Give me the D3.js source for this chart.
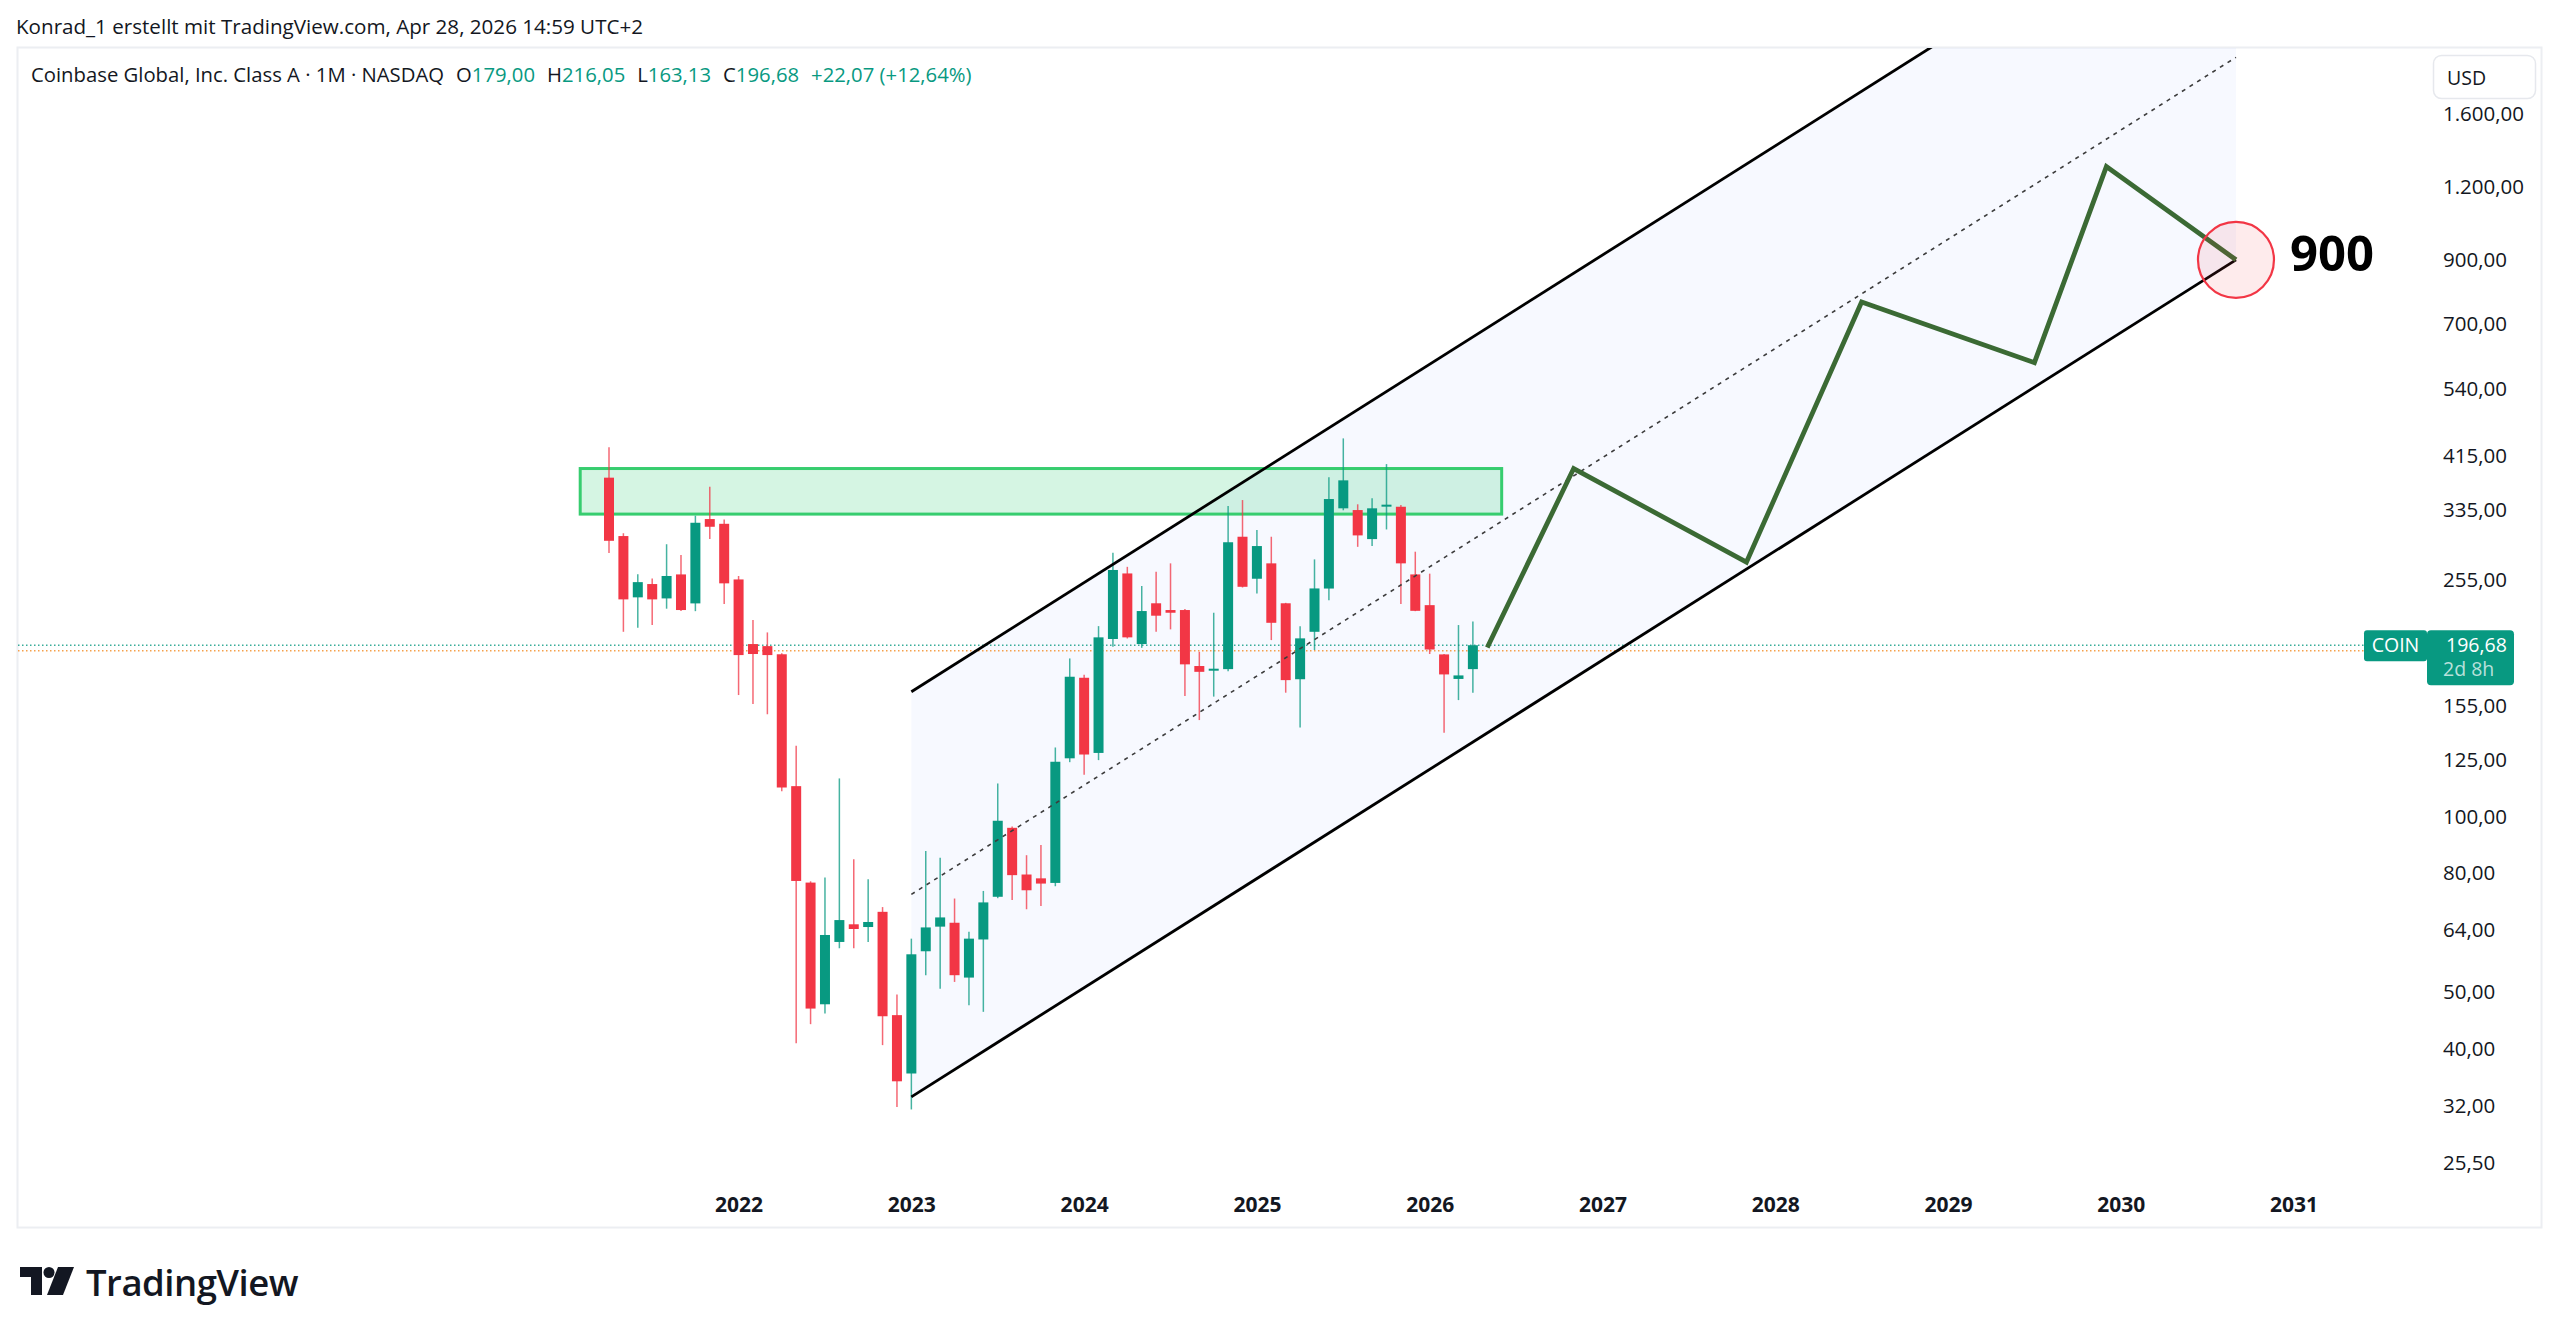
<!doctype html>
<html>
<head>
  <meta charset="utf-8">
  <title>COIN 1M – Kanal</title>
  <style>
    body { margin: 0; background: #fff; }
    svg text { font-family: "Open Sans", "DejaVu Sans", sans-serif; }
  </style>
  <script src="https://cdnjs.cloudflare.com/ajax/libs/d3/7.8.5/d3.min.js"></script>
</head>
<body>
<div id="chart"></div>
<script>
// --- Monatskerzen COIN ---
const months = ['2021-04','2021-05','2021-06','2021-07','2021-08','2021-09','2021-10','2021-11','2021-12',
  '2022-01','2022-02','2022-03','2022-04','2022-05','2022-06','2022-07','2022-08','2022-09','2022-10','2022-11','2022-12',
  '2023-01','2023-02','2023-03','2023-04','2023-05','2023-06','2023-07','2023-08','2023-09','2023-10','2023-11','2023-12',
  '2024-01','2024-02','2024-03','2024-04','2024-05','2024-06','2024-07','2024-08','2024-09','2024-10','2024-11','2024-12',
  '2025-01','2025-02','2025-03','2025-04','2025-05','2025-06','2025-07','2025-08','2025-09','2025-10','2025-11','2025-12',
  '2026-01','2026-02','2026-03','2026-04'];
const opens  = [381, 302.6, 237.6, 250.4, 236.6, 260.1, 232, 323.6, 317.6,
  255, 197.6, 196, 189.8, 112.8, 77.1, 47.7, 61, 65.4, 64.7, 68.7, 45.7,
  36.3, 58.8, 64.8, 65.8, 53, 61.6, 72.9, 95.7, 79.6, 78.4, 77, 125.9,
  173, 128.6, 201.6, 261.1, 197.6, 232.1, 226, 226, 181.2, 178.4, 179, 301.8,
  255.7, 271.7, 232.1, 172, 207.4, 246, 337.6, 335.3, 299, 340.5, 339.7, 260.1,
  230.4, 189.7, 172.2, 179];
const highs  = [429.5, 306, 260.2, 256, 293, 280.8, 327.9, 367.5, 323,
  258.5, 217.2, 206.9, 190.5, 132.3, 77.5, 78.7, 116.3, 84.5, 78.1, 70, 49.6,
  61.8, 87.3, 85, 72.4, 63.5, 74.6, 114, 96.2, 85.9, 89.4, 131.4, 186.7,
  175, 212.1, 283.4, 268, 248.5, 262.9, 271.7, 227, 191.7, 223.6, 340.6, 348.8,
  309.8, 301.8, 232.5, 212, 276, 381.5, 444.9, 343, 351.2, 402, 341.9, 284.5,
  260.9, 190, 213, 216.05];
const lows   = [283, 207.4, 210.7, 213, 227.2, 225.2, 225, 299, 231.4,
  161.6, 156, 149.8, 110.5, 40.9, 44.1, 46, 59.5, 59.5, 61, 40.6, 31.8,
  31.5, 53.5, 50.7, 52.1, 47.5, 46.3, 72.5, 72, 69.4, 70.3, 76, 124,
  118, 125, 195.5, 202, 194.7, 207.4, 209.4, 161, 146.4, 160.6, 177.5, 247,
  241.3, 200.7, 163.1, 142.2, 193, 235, 335, 290, 291, 310.6, 231.4, 225,
  190, 139.2, 158.4, 163.13];
const closes = [297, 235.7, 252.3, 235.7, 258.5, 226, 318.9, 313.9, 251.1,
  189.2, 190, 189.2, 112.2, 77.6, 46.9, 62.7, 66.5, 64.2, 66, 45.5, 35.2,
  58.1, 64.6, 67.2, 53.5, 61.8, 71.3, 98.4, 79.4, 74.8, 76.8, 124.2, 173.7,
  127.8, 202.9, 264.7, 202.9, 225.1, 221, 223.6, 182.4, 177.1, 179.3, 295.3, 247.7,
  290.9, 214.9, 171.4, 202.1, 246.1, 350.2, 377, 303.4, 337.6, 342.5, 271.7, 225.3,
  193.4, 175.3, 174.61, 196.68];

// Achsen
const priceTicks = [1600, 1200, 900, 700, 540, 415, 335, 255, 155, 125, 100, 80, 64, 50, 40, 32, 25.5];
const yearTicks  = ['2022-01','2023-01','2024-01','2025-01','2026-01','2027-01','2028-01','2029-01','2030-01','2031-01'];
const yearLabels = ['2022','2023','2024','2025','2026','2027','2028','2029','2030','2031'];

// Zeichnungen: Kanal, Zone, Prognose-Pfad
const channelMonths = ['2023-01', '2030-09'];
const channelLower  = [33.1, 900];
const channelMid    = [73.6, 2001];
const channelUpper  = [163.7, 4451];
const zoneMonths = ['2021-02', '2026-06'];
const zonePrices = [395, 330];
const pathMonths = ['2026-05','2026-11','2027-11','2028-07','2029-07','2029-12','2030-09'];
const pathPrices = [195, 395, 273, 762, 600, 1300, 900];
const targetMonth = '2030-09', targetPrice = 900;
const extPrice = 192.5; // orange gepunktete Linie

// Monat -> Bar-Index (0 = Apr 2021)
function monthIdx(s) {
  const p = s.split('-').map(Number);
  return (p[0] - 2021) * 12 + (p[1] - 4);
}

const W = 2560, H = 1335;
const pane = { left: 18, top: 48, right: 2430, bottom: 1182 };

const x = d3.scaleLinear().domain([0, 108]).range([609, 609 + 108 * 14.398]);
const y = d3.scaleLog().domain([1600, 25.5]).range([114, 1163]);

const de = d3.formatLocale({ decimal: ',', thousands: '.', grouping: [3], currency: ['', ''] });
const fmt = de.format(',.2f');

const up = '#089981', down = '#f23645', ink = '#131722';

const svg = d3.select('#chart').append('svg')
  .attr('width', W).attr('height', H);

svg.append('defs').append('clipPath').attr('id', 'paneClip')
  .append('rect')
  .attr('x', pane.left).attr('y', pane.top)
  .attr('width', pane.right - pane.left).attr('height', pane.bottom - pane.top);

// Kopfzeile
svg.append('text')
  .attr('x', 16).attr('y', 34)
  .attr('font-size', 20.6).attr('fill', ink)
  .text('Konrad_1 erstellt mit TradingView.com, Apr 28, 2026 14:59 UTC+2');

// Rahmen
svg.append('rect')
  .attr('x', 17.5).attr('y', 47.5).attr('width', 2524).attr('height', 1180)
  .attr('fill', 'none').attr('stroke', '#eceef2').attr('stroke-width', 2);

const plot = svg.append('g').attr('clip-path', 'url(#paneClip)');

// Kanal-Fläche
const c0 = monthIdx(channelMonths[0]), c1 = monthIdx(channelMonths[1]);
plot.append('path')
  .attr('d', d3.line()([
    [x(c0), y(channelUpper[0])], [x(c1), y(channelUpper[1])],
    [x(c1), y(channelLower[1])], [x(c0), y(channelLower[0])]
  ]) + 'Z')
  .attr('fill', 'rgba(41,98,255,0.035)');

// Widerstandszone
const zx0 = x(monthIdx(zoneMonths[0])), zx1 = x(monthIdx(zoneMonths[1]));
plot.append('rect')
  .attr('x', zx0).attr('y', y(zonePrices[0]))
  .attr('width', zx1 - zx0).attr('height', y(zonePrices[1]) - y(zonePrices[0]))
  .attr('fill', 'rgba(46,204,113,0.2)')
  .attr('stroke', '#37cd6f').attr('stroke-width', 3);

// Preislinien (gepunktet)
plot.append('line')
  .attr('x1', pane.left).attr('x2', 2364)
  .attr('y1', y(extPrice)).attr('y2', y(extPrice))
  .attr('stroke', '#f5a04a').attr('stroke-width', 1.5).attr('stroke-dasharray', '1.5,2.5');
plot.append('line')
  .attr('x1', pane.left).attr('x2', 2364)
  .attr('y1', y(closes[closes.length - 1])).attr('y2', y(closes[closes.length - 1]))
  .attr('stroke', up).attr('stroke-opacity', 0.8).attr('stroke-width', 1.5).attr('stroke-dasharray', '1.5,2.5');

// Kerzen
const candles = plot.selectAll('g.candle')
  .data(months)
  .join('g').attr('class', 'candle');

candles.append('line')
  .attr('x1', (d) => x(monthIdx(d))).attr('x2', (d) => x(monthIdx(d)))
  .attr('y1', (d, i) => y(highs[i])).attr('y2', (d, i) => y(lows[i]))
  .attr('stroke', (d, i) => closes[i] >= opens[i] ? up : down)
  .attr('stroke-opacity', 0.75)
  .attr('stroke-width', 1.5);

candles.append('rect')
  .attr('x', (d) => x(monthIdx(d)) - 5)
  .attr('y', (d, i) => y(Math.max(opens[i], closes[i])))
  .attr('width', 10)
  .attr('height', (d, i) => Math.max(2, Math.abs(y(opens[i]) - y(closes[i]))))
  .attr('fill', (d, i) => closes[i] >= opens[i] ? up : down);

// Kanal-Linien
plot.append('line')
  .attr('x1', x(c0)).attr('y1', y(channelMid[0]))
  .attr('x2', x(c1)).attr('y2', y(channelMid[1]))
  .attr('stroke', '#3c3c3c').attr('stroke-width', 1.6).attr('stroke-dasharray', '4,5');
[channelUpper, channelLower].forEach(function(line) {
  plot.append('line')
    .attr('x1', x(c0)).attr('y1', y(line[0]))
    .attr('x2', x(c1)).attr('y2', y(line[1]))
    .attr('stroke', '#000').attr('stroke-width', 2.8);
});

// Prognose-Pfad
plot.append('path')
  .attr('d', d3.line()(pathMonths.map((m, i) => [x(monthIdx(m)), y(pathPrices[i])])))
  .attr('fill', 'none')
  .attr('stroke', '#3b6a34').attr('stroke-width', 4.8)
  .attr('stroke-linejoin', 'miter');

// Ziel-Kreis 900
const tx = x(monthIdx(targetMonth)), ty = y(targetPrice);
plot.append('circle')
  .attr('cx', tx).attr('cy', ty).attr('r', 38)
  .attr('fill', 'rgba(242,54,69,0.1)')
  .attr('stroke', '#f23645').attr('stroke-width', 2.2);
svg.append('text')
  .attr('x', tx + 54).attr('y', ty + 11)
  .attr('font-size', 49).attr('font-weight', 700).attr('fill', '#000')
  .text(d3.format('d')(targetPrice));

// Preisachse rechts
const yAxis = svg.append('g')
  .attr('transform', 'translate(2443,0)')
  .call(d3.axisRight(y).tickValues(priceTicks).tickSize(0).tickPadding(0).tickFormat(fmt));
yAxis.select('.domain').remove();
yAxis.selectAll('text')
  .attr('font-family', '"Open Sans", sans-serif')
  .attr('font-size', 20.5).attr('fill', ink);

// Zeitachse
const xAxis = svg.append('g')
  .attr('transform', 'translate(0,1197)')
  .call(d3.axisBottom(x).tickValues(yearTicks.map(monthIdx)).tickSize(0).tickPadding(0)
    .tickFormat((d, i) => yearLabels[i]));
xAxis.select('.domain').remove();
xAxis.selectAll('text')
  .attr('font-family', '"Open Sans", sans-serif')
  .attr('font-size', 21).attr('font-weight', 700).attr('fill', ink);

// USD-Box
svg.append('rect')
  .attr('x', 2433.5).attr('y', 55.5).attr('width', 102).attr('height', 43).attr('rx', 8)
  .attr('fill', '#fff').attr('stroke', '#e6e8ed').attr('stroke-width', 1.5);
svg.append('text')
  .attr('x', 2447).attr('y', 85)
  .attr('font-size', 19.5).attr('fill', ink)
  .text('USD');

// Legende oben
const last = closes.length - 1;
const chg = closes[last] - closes[last - 1];
const pct = chg / closes[last - 1] * 100;
const f2 = de.format(',.2f');
const legend = svg.append('text')
  .attr('x', 31).attr('y', 82)
  .attr('font-size', 20.3).attr('fill', ink);
legend.append('tspan').text('Coinbase Global, Inc. Class A · 1M · NASDAQ');
[['O', opens[last]], ['H', highs[last]], ['L', lows[last]], ['C', closes[last]]].forEach(function(p) {
  legend.append('tspan').attr('dx', 12).text(p[0]);
  legend.append('tspan').attr('fill', up).text(f2(p[1]));
});
legend.append('tspan').attr('dx', 12).attr('fill', up)
  .text('+' + f2(chg) + ' (+' + f2(pct) + '%)');

// COIN-Label und Kurs
const py = y(closes[last]);
svg.append('rect')
  .attr('x', 2364).attr('y', py - 15).attr('width', 63).attr('height', 31).attr('rx', 3)
  .attr('fill', up);
svg.append('text')
  .attr('x', 2395.5).attr('y', py + 7).attr('text-anchor', 'middle')
  .attr('font-size', 19.5).attr('fill', '#fff')
  .text('COIN');
svg.append('rect')
  .attr('x', 2427).attr('y', py - 15).attr('width', 87).attr('height', 55).attr('rx', 4)
  .attr('fill', up);
svg.append('text')
  .attr('x', 2446).attr('y', py + 7)
  .attr('font-size', 19.5).attr('fill', '#fff')
  .text(f2(closes[last]));
svg.append('text')
  .attr('x', 2443).attr('y', py + 31)
  .attr('font-size', 19.5).attr('fill', 'rgba(255,255,255,0.72)')
  .text('2d 8h');

// TradingView-Logo unten
const logo = svg.append('g').attr('transform', 'translate(20,1267)').attr('fill', ink);
logo.append('path').attr('d', 'M0,0 H22 V28 H11 V10 H0 Z');
logo.append('circle').attr('cx', 29).attr('cy', 5.5).attr('r', 5.5);
logo.append('path').attr('d', 'M38,0 H54 L43,28 H27 Z');
svg.append('text')
  .attr('x', 86).attr('y', 1296)
  .attr('font-size', 36.5).attr('font-weight', 600).attr('fill', ink)
  .attr('letter-spacing', -0.5)
  .text('TradingView');
</script>
</body>
</html>
